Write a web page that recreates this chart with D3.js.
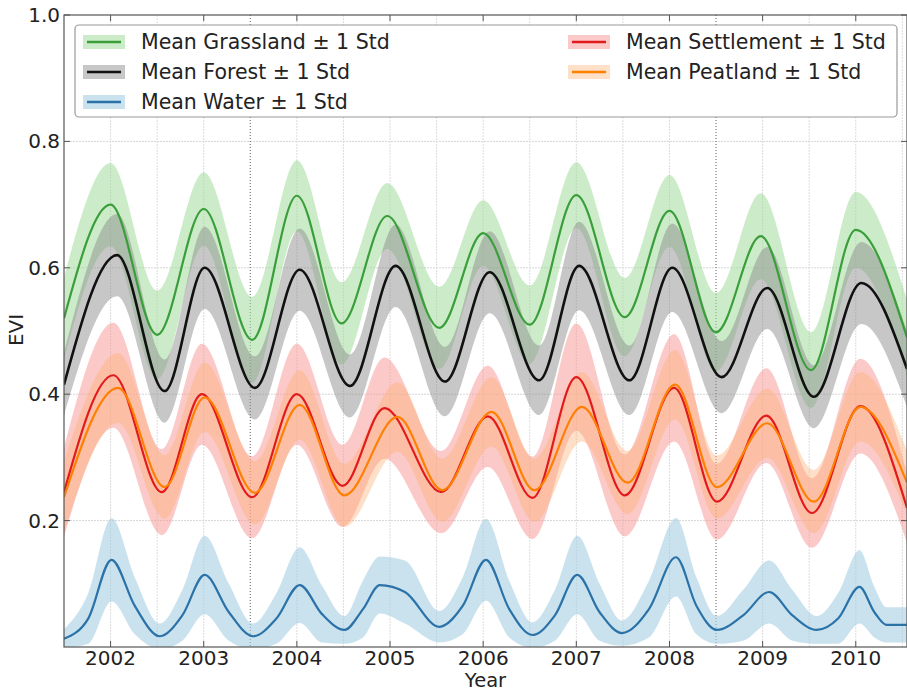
<!DOCTYPE html>
<html><head><meta charset="utf-8">
<script src="https://cdn.jsdelivr.net/npm/d3@7"></script>
<style>body{margin:0;background:#fff}svg{display:block}text{font-family:"DejaVu Sans",sans-serif;fill:#222}</style>
</head><body><svg id="c" width="907" height="692"></svg>
<script>
const xTicks=[2002,2003,2004,2005,2006,2007,2008,2009,2010];
const yTicks=[0.2,0.4,0.6,0.8,1.0];
const markerYears=[2003.5,2008.5];

const grassT=[2001.5,2002.0,2002.5,2003.0,2003.52,2004.0,2004.48,2004.97,2005.53,2006.0,2006.5,2007.0,2007.52,2008.0,2008.5,2008.98,2009.52,2010.0,2010.55];
const grassMean=[0.52,0.70,0.494,0.693,0.486,0.714,0.512,0.682,0.505,0.655,0.51,0.715,0.522,0.69,0.498,0.65,0.438,0.66,0.49];
const grassStd=[0.065,0.066,0.07,0.058,0.068,0.056,0.065,0.052,0.065,0.052,0.062,0.052,0.062,0.057,0.062,0.068,0.06,0.06,0.06];

const forestT=[2001.5,2002.07,2002.58,2003.01,2003.55,2004.03,2004.57,2005.06,2005.59,2006.07,2006.6,2007.03,2007.57,2008.03,2008.56,2009.05,2009.55,2010.06,2010.55];
const forestMean=[0.415,0.62,0.405,0.60,0.41,0.597,0.413,0.603,0.42,0.593,0.422,0.603,0.422,0.60,0.427,0.568,0.396,0.576,0.44];
const forestStd=[0.05,0.065,0.05,0.065,0.05,0.065,0.05,0.065,0.055,0.065,0.055,0.07,0.055,0.07,0.057,0.065,0.05,0.065,0.06];

const waterT=[2001.5,2001.76,2002.01,2002.26,2002.53,2002.77,2003.01,2003.27,2003.53,2003.78,2004.03,2004.27,2004.51,2004.71,2004.89,2005.16,2005.53,2005.78,2006.03,2006.28,2006.53,2006.77,2007.01,2007.25,2007.49,2007.78,2008.07,2008.29,2008.51,2008.79,2009.07,2009.32,2009.58,2009.81,2010.04,2010.2,2010.33,2010.55];
const waterMean=[0.013,0.045,0.138,0.065,0.017,0.05,0.114,0.055,0.017,0.045,0.098,0.052,0.027,0.06,0.098,0.087,0.032,0.065,0.138,0.06,0.019,0.05,0.114,0.055,0.022,0.06,0.142,0.065,0.027,0.05,0.087,0.05,0.027,0.045,0.095,0.055,0.035,0.035];
const waterStd=[0.015,0.04,0.066,0.045,0.02,0.04,0.062,0.045,0.02,0.04,0.06,0.045,0.022,0.045,0.045,0.05,0.025,0.045,0.065,0.045,0.02,0.04,0.062,0.045,0.02,0.045,0.062,0.045,0.022,0.04,0.05,0.04,0.022,0.04,0.058,0.04,0.028,0.028];

const settleT=[2001.5,2002.03,2002.55,2002.98,2003.52,2004.0,2004.49,2004.94,2005.55,2006.05,2006.53,2007.0,2007.52,2008.05,2008.51,2009.04,2009.53,2010.05,2010.55];
const settleMean=[0.245,0.43,0.245,0.40,0.237,0.40,0.255,0.378,0.245,0.365,0.236,0.427,0.24,0.41,0.23,0.366,0.212,0.381,0.22];
const settleStd=[0.07,0.083,0.068,0.08,0.065,0.08,0.065,0.08,0.065,0.08,0.065,0.085,0.065,0.085,0.06,0.075,0.055,0.075,0.055];

const peatT=[2001.5,2002.08,2002.58,2003.01,2003.55,2004.03,2004.51,2005.08,2005.56,2006.09,2006.55,2007.06,2007.55,2008.06,2008.51,2009.05,2009.55,2010.05,2010.55];
const peatMean=[0.237,0.41,0.253,0.395,0.244,0.383,0.24,0.364,0.248,0.372,0.248,0.38,0.26,0.415,0.253,0.354,0.23,0.38,0.26];
const peatStd=[0.055,0.055,0.05,0.055,0.05,0.055,0.05,0.055,0.05,0.055,0.05,0.055,0.05,0.055,0.05,0.055,0.05,0.055,0.05];

const seriesNames=["Mean Grassland \u00b1 1 Std","Mean Forest \u00b1 1 Std","Mean Water \u00b1 1 Std","Mean Settlement \u00b1 1 Std","Mean Peatland \u00b1 1 Std"];
const lineColors=["#3a9e3a","#111111","#2a72a8","#e31a1c","#ff7f00"];
const bandColors=["#a3dd9c","#8a8a8a","#a6cee3","#f7938f","#fdb27a"];
const bandOpacity=[0.55,0.48,0.6,0.5,0.42];

const series=[[grassT,grassMean,grassStd],[forestT,forestMean,forestStd],[waterT,waterMean,waterStd],[settleT,settleMean,settleStd],[peatT,peatMean,peatStd]]
  .map(([t,m,s],i)=>({name:seriesNames[i],pts:t.map((d,j)=>({t:d,m:m[j],s:s[j]}))}));

const L=64,R=907,T=15,B=647;
const svg=d3.select("#c");
const x=d3.scaleLinear().domain([2001.5,2010.55]).range([L,R]);
const y=d3.scaleLinear().domain([0,1]).range([B,T]);

svg.append("defs").append("clipPath").attr("id","clip").append("rect").attr("x",L).attr("y",T).attr("width",R-L).attr("height",B-T);

// grid
const g=svg.append("g").attr("clip-path","url(#clip)");
const halfYears=d3.range(2002,2010.51,0.5).filter(v=>!markerYears.includes(v));
g.selectAll(".vg").data(halfYears).join("line").attr("x1",d=>x(d)).attr("x2",d=>x(d)).attr("y1",T).attr("y2",B)
  .attr("stroke","#dcdcdc").attr("stroke-width",1).attr("stroke-dasharray","2,1");
g.selectAll(".hg").data(yTicks.slice(0,4)).join("line").attr("x1",L).attr("x2",R).attr("y1",d=>y(d)).attr("y2",d=>y(d))
  .attr("stroke","#d6d6d6").attr("stroke-width",1).attr("stroke-dasharray","2,1");
g.selectAll(".mk").data(markerYears).join("line").attr("x1",d=>x(d)).attr("x2",d=>x(d)).attr("y1",T).attr("y2",B)
  .attr("stroke","#777").attr("stroke-width",1.2).attr("stroke-dasharray","1,2");

const area=d3.area().x(d=>x(d.t)).y0(d=>y(d.m-d.s)).y1(d=>y(d.m+d.s)).curve(d3.curveMonotoneX);
const line=d3.line().x(d=>x(d.t)).y(d=>y(d.m)).curve(d3.curveMonotoneX);
series.forEach((s,i)=>{
  g.append("path").attr("d",area(s.pts)).attr("fill",bandColors[i]).attr("fill-opacity",bandOpacity[i]).attr("stroke","none");
});
series.forEach((s,i)=>{
  g.append("path").attr("d",line(s.pts)).attr("fill","none").attr("stroke",lineColors[i]).attr("stroke-width",i===1?2.6:2.2);
});

// frame
svg.append("rect").attr("x",L).attr("y",T).attr("width",R-L).attr("height",B-T).attr("fill","none").attr("stroke","#555").attr("stroke-width",1.2);

// ticks
const tk=svg.append("g").attr("stroke","#555").attr("stroke-width",1);
xTicks.forEach(v=>{tk.append("line").attr("x1",x(v)).attr("x2",x(v)).attr("y1",B).attr("y2",B-6);
  tk.append("line").attr("x1",x(v)).attr("x2",x(v)).attr("y1",T).attr("y2",T+6);});
yTicks.forEach(v=>{tk.append("line").attr("x1",L).attr("x2",L+6).attr("y1",y(v)).attr("y2",y(v));
  tk.append("line").attr("x1",R).attr("x2",R-6).attr("y1",y(v)).attr("y2",y(v));});

svg.selectAll(".xl").data(xTicks).join("text").attr("x",d=>x(d)).attr("y",B+18).attr("text-anchor","middle")
  .style("font-size","20px").text(d=>d);
svg.selectAll(".yl").data(yTicks).join("text").attr("x",L-4).attr("y",d=>y(d)+7).attr("text-anchor","end")
  .style("font-size","20px").text(d=>d.toFixed(1));
svg.append("text").attr("x",(L+R)/2).attr("y",687).attr("text-anchor","middle").style("font-size","19.5px").text("Year");
svg.append("text").attr("transform","translate(23,330) rotate(-90)").attr("text-anchor","middle").style("font-size","20px").text("EVI");

// legend
const lg=svg.append("g");
lg.append("rect").attr("x",75).attr("y",25).attr("width",822).attr("height",92).attr("rx",4)
  .attr("fill","#fff").attr("stroke","#999").attr("stroke-width",1.2);
const pos=[[83,42],[83,72],[83,102],[568,42],[568,72]];
seriesNames.forEach((n,i)=>{
  const [px,py]=pos[i];
  lg.append("rect").attr("x",px).attr("y",py-7).attr("width",42).attr("height",14).attr("fill",bandColors[i]).attr("fill-opacity",bandOpacity[i]);
  lg.append("line").attr("x1",px+4).attr("x2",px+38).attr("y1",py).attr("y2",py).attr("stroke",lineColors[i]).attr("stroke-width",2.6);
  lg.append("text").attr("x",px+58).attr("y",py+7).style("font-size","20.5px").text(n);
});
</script></body></html>
